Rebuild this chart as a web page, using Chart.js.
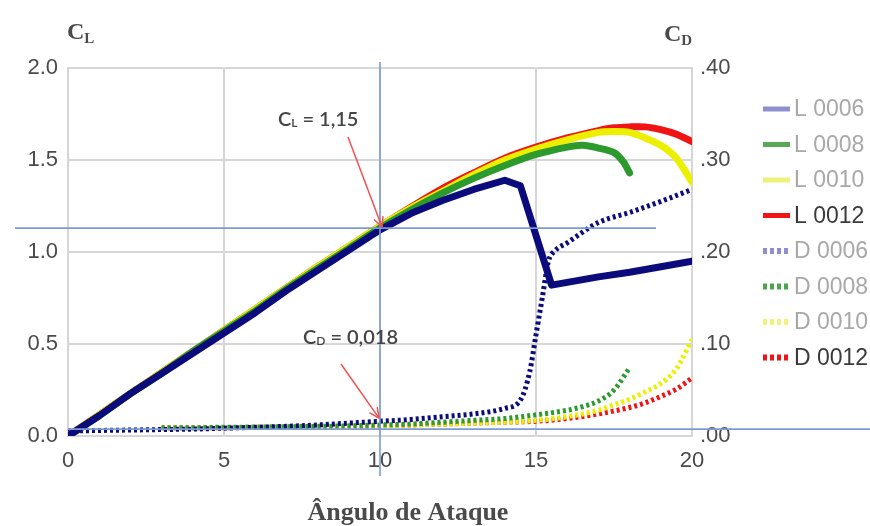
<!DOCTYPE html>
<html><head><meta charset="utf-8">
<script src="https://cdn.jsdelivr.net/npm/chart.js@4.4.0/dist/chart.umd.min.js"></script>
<style>html,body{margin:0;padding:0;background:#fff}</style>
</head><body>
<canvas id="c" width="870" height="526"></canvas>
<script>
// ---- data ----
const seriesNames = ['L 0006','L 0008','L 0010','L 0012','D 0006','D 0008','D 0010','D 0012'];
const xTicks = [0,5,10,15,20];
const clTicks = [0,0.5,1.0,1.5,2.0];
const cdTicks = [0,0.10,0.20,0.30,0.40];

const aL0006 = [0,1,2,3,4,5,6,7,8,9,10,11,12,13,14,14.5,15.5,16,17,18,19,20];
const cL0006 = [0,0.11,0.23,0.34,0.45,0.56,0.67,0.79,0.90,1.01,1.12,1.21,1.28,1.34,1.39,1.36,0.82,0.835,0.865,0.89,0.92,0.95];

const aL0008 = [0,1,2,3,4,5,6,7,8,9,10,11,12,13,14,15,16,16.5,17,17.5,17.8,18];
const cL0008 = [0,0.11,0.23,0.34,0.46,0.57,0.68,0.80,0.91,1.02,1.13,1.23,1.32,1.40,1.47,1.53,1.57,1.58,1.565,1.54,1.49,1.43];

const aL0010 = [0,1,2,3,4,5,6,7,8,9,10,11,12,13,14,15,16,17,17.5,18,18.5,19,19.5,20];
const cL0010 = [0,0.115,0.23,0.345,0.46,0.575,0.69,0.805,0.92,1.03,1.14,1.24,1.33,1.42,1.50,1.56,1.61,1.65,1.655,1.65,1.62,1.58,1.51,1.38];

const aL0012 = [0,1,2,3,4,5,6,7,8,9,10,11,12,13,14,15,16,17,17.5,18,18.5,19,19.5,20];
const cL0012 = [0,0.115,0.23,0.345,0.46,0.575,0.69,0.805,0.92,1.03,1.14,1.245,1.345,1.43,1.51,1.57,1.62,1.66,1.675,1.68,1.68,1.665,1.64,1.60];

const aD0006 = [0,1,2,3,4,5,6,7,8,9,10,11,12,13,14,14.5,14.8,15,15.2,15.4,15.6,16,17,18,19,20];
const cD0006 = [0.0055,0.006,0.0065,0.007,0.0075,0.0085,0.0095,0.0105,0.012,0.014,0.016,0.018,0.021,0.024,0.030,0.039,0.070,0.110,0.150,0.190,0.201,0.210,0.232,0.243,0.255,0.268];

const aD0008 = [3,4,5,6,7,8,9,10,11,12,13,14,15,16,16.5,17,17.5,18];
const cD0008 = [0.009,0.009,0.0095,0.0095,0.010,0.0105,0.011,0.012,0.013,0.015,0.017,0.019,0.023,0.028,0.032,0.038,0.050,0.074];

const aD0010 = [3,4,5,6,7,8,9,10,11,12,13,14,15,16,17,17.5,18,18.5,19,19.5,20];
const cD0010 = [0.009,0.009,0.009,0.0095,0.0095,0.010,0.0105,0.011,0.012,0.013,0.014,0.015,0.017,0.021,0.028,0.034,0.040,0.048,0.057,0.073,0.105];

const aD0012 = [3,4,5,6,7,8,9,10,11,12,13,14,15,16,17,18,18.5,19,19.5,20];
const cD0012 = [0.009,0.009,0.009,0.0095,0.0095,0.010,0.0105,0.011,0.012,0.013,0.014,0.015,0.016,0.019,0.024,0.031,0.036,0.043,0.051,0.063];

// annotation values
const markAngle = 10;
const markCL = 1.13;
const markCD = 0.0195;
const baseCD = 0.0075;
const clText = '1,15';
const cdText = '0,018';

// ---- build ----
const pts = (a, v) => a.map((x, i) => ({x, y: v[i]}));
const NAVY = '#0b0b7c', GREEN = '#2c9a2c', YELLOW = '#ecf000', RED = '#f01414';

function solid(label, a, v, color, swatch, txt, tension) {
  return {label, data: pts(a, v), yAxisID: 'y', borderColor: color, borderWidth: 7,
    pointRadius: 0, tension: tension, borderJoinStyle: 'round', borderCapStyle: 'round',
    swatch, txt, dashed: false};
}
function dotted(label, a, v, color, swatch, txt) {
  return {label, data: pts(a, v), yAxisID: 'y2', borderColor: color, borderWidth: 5,
    borderDash: [3, 3], pointRadius: 0, cubicInterpolationMode: 'monotone',
    borderCapStyle: 'butt', swatch, txt, dashed: true};
}

const datasets = [
  solid(seriesNames[0], aL0006, cL0006, NAVY, '#8e8ed0', '#a8a8a8', 0),
  solid(seriesNames[1], aL0008, cL0008, GREEN, '#58a858', '#a8a8a8', 0.3),
  solid(seriesNames[2], aL0010, cL0010, YELLOW, '#eef07a', '#a8a8a8', 0.3),
  solid(seriesNames[3], aL0012, cL0012, RED, '#f01414', '#3a3a3a', 0.3),
  dotted(seriesNames[4], aD0006, cD0006, NAVY, '#8e8ed0', '#a8a8a8'),
  dotted(seriesNames[5], aD0008, cD0008, GREEN, '#4aa64a', '#a8a8a8'),
  dotted(seriesNames[6], aD0010, cD0010, YELLOW, '#f2f27a', '#a8a8a8'),
  dotted(seriesNames[7], aD0012, cD0012, RED, '#f01414', '#3a3a3a'),
];

const GRID = '#d6d6d6';
const TICKFONT = {family: 'Liberation Sans', size: 22};

function line(ctx, x1, y1, x2, y2) { ctx.beginPath(); ctx.moveTo(x1, y1); ctx.lineTo(x2, y2); ctx.stroke(); }
function arrow(ctx, x1, y1, x2, y2) {
  line(ctx, x1, y1, x2, y2);
  const ang = Math.atan2(y2 - y1, x2 - x1), L = 11, s = 0.45;
  line(ctx, x2, y2, x2 - L * Math.cos(ang - s), y2 - L * Math.sin(ang - s));
  line(ctx, x2, y2, x2 - L * Math.cos(ang + s), y2 - L * Math.sin(ang + s));
}
function subText(ctx, x, y, main, sub, rest, size, fam, weight) {
  ctx.font = `${weight} ${size}px ${fam}`;
  ctx.fillText(main, x, y);
  let w = ctx.measureText(main).width;
  ctx.font = `${weight} ${Math.round(size * 0.62)}px ${fam}`;
  ctx.fillText(sub, x + w, y + size * 0.18);
  w += ctx.measureText(sub).width;
  if (rest) { ctx.font = `${weight} ${size}px ${fam}`; ctx.fillText(rest, x + w, y); }
}

const overlay = {
  id: 'overlay',
  afterDatasetsDraw(chart) {
    const {ctx, scales: {x, y, y2}} = chart;
    ctx.save();
    ctx.strokeStyle = '#7b9bd2'; ctx.lineWidth = 1.6;
    const xv = x.getPixelForValue(markAngle);
    line(ctx, xv, 62, xv, 476);
    const yh = y.getPixelForValue(markCL);
    line(ctx, 15, yh, 656, yh);
    const yb = y2.getPixelForValue(baseCD);
    line(ctx, x.left, yb, chart.width, yb);
    // arrows
    ctx.strokeStyle = '#f05050'; ctx.lineWidth = 1.5;
    arrow(ctx, 348, 137, xv + 2, yh - 1);
    arrow(ctx, 341, 364, xv - 1, y2.getPixelForValue(markCD));
    // annotation texts
    ctx.fillStyle = '#454545'; ctx.textBaseline = 'middle'; ctx.textAlign = 'left';
    subText(ctx, 278, 120, 'C', 'L', ' = ' + clText, 20, 'Lato', '600');
    subText(ctx, 303, 338, 'C', 'D', ' = ' + cdText, 20, 'Lato', '600');
    ctx.restore();
  },
  afterDraw(chart) {
    const {ctx} = chart;
    ctx.save();
    // axis titles
    ctx.fillStyle = '#4a4a4a'; ctx.textBaseline = 'alphabetic'; ctx.textAlign = 'left';
    subText(ctx, 67, 39, 'C', 'L', '', 24, 'Liberation Serif', 'bold');
    subText(ctx, 664, 41, 'C', 'D', '', 24, 'Liberation Serif', 'bold');
    ctx.textAlign = 'center';
    ctx.font = 'bold 26px "Liberation Serif"';
    ctx.fillText('Ângulo de Ataque', 408, 520);
    // legend
    ctx.textAlign = 'left'; ctx.textBaseline = 'middle';
    ctx.font = '23px "Liberation Sans"';
    chart.data.datasets.forEach((d, i) => {
      const yy = 109 + i * 35.5;
      ctx.strokeStyle = d.swatch;
      if (d.dashed) { ctx.lineWidth = 6; ctx.setLineDash([4, 3]); line(ctx, 763, yy, 790, yy); }
      else { ctx.lineWidth = 5; ctx.setLineDash([]); line(ctx, 763, yy, 790, yy); }
      ctx.setLineDash([]);
      ctx.fillStyle = d.txt;
      ctx.fillText(d.label, 794, yy + 1);
    });
    ctx.restore();
  }
};

new Chart(document.getElementById('c'), {
  type: 'line',
  data: {datasets},
  options: {
    responsive: false, animation: false, devicePixelRatio: 1,
    layout: {padding: {top: 68, left: 0, right: 0, bottom: 0}},
    plugins: {legend: {display: false}, tooltip: {enabled: false}, title: {display: false}},
    scales: {
      x: {type: 'linear', min: 0, max: 20,
        afterBuildTicks: s => { s.ticks = xTicks.map(v => ({value: v})); },
        ticks: {font: TICKFONT, color: '#4a4a4a', padding: 12, maxRotation: 0},
        grid: {color: GRID, lineWidth: 2, drawTicks: false},
        border: {color: GRID, width: 2},
        afterFit: s => { s.height = 90; }},
      y: {type: 'linear', position: 'left', min: 0, max: 2,
        afterBuildTicks: s => { s.ticks = clTicks.map(v => ({value: v})); },
        ticks: {font: TICKFONT, color: '#4a4a4a', padding: 10, callback: v => v.toFixed(1)},
        grid: {color: GRID, lineWidth: 2, drawTicks: false},
        border: {color: GRID, width: 2},
        afterFit: s => { s.width = 68; }},
      y2: {type: 'linear', position: 'right', min: 0, max: 0.4,
        afterBuildTicks: s => { s.ticks = cdTicks.map(v => ({value: v})); },
        ticks: {font: TICKFONT, color: '#4a4a4a', padding: 8, callback: v => '.' + v.toFixed(2).split('.')[1]},
        grid: {display: false, drawTicks: false},
        border: {color: GRID, width: 2},
        afterFit: s => { s.width = 178; }}
    }
  },
  plugins: [overlay]
});
</script>
</body></html>
